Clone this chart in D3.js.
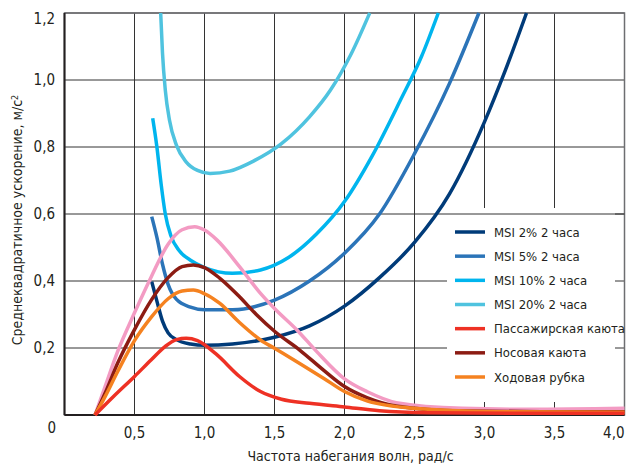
<!DOCTYPE html>
<html>
<head>
<meta charset="utf-8">
<script src="https://cdn.jsdelivr.net/npm/d3@7"></script>
<style>
  body { margin: 0; background: #fff; }
  svg text { font-family: "DejaVu Sans Condensed", "DejaVu Sans", sans-serif; font-stretch: condensed; fill: #231f20; }
  .grid line { stroke: #333; stroke-width: 1; }
  .curve { fill: none; stroke-width: 3.5; stroke-linejoin: round; stroke-linecap: butt; }
</style>
</head>
<body>
<script>
// series data [frequency, rms acceleration]
var msi2 = [[0.623,0.398],[0.66,0.34],[0.70,0.28],[0.74,0.245],[0.80,0.225],[0.90,0.212],[1.0,0.208],[1.2,0.212],[1.5,0.232],[1.75,0.266],[2.0,0.325],[2.25,0.41],[2.5,0.515],[2.75,0.66],[3.0,0.875],[3.15,1.03],[3.30,1.2]];
var msi5 = [[0.623,0.592],[0.66,0.53],[0.70,0.45],[0.74,0.39],[0.80,0.345],[0.90,0.322],[1.0,0.314],[1.2,0.314],[1.5,0.343],[1.75,0.40],[2.0,0.483],[2.25,0.60],[2.5,0.78],[2.75,0.99],[2.96,1.2]];
var msi10 = [[0.63,0.886],[0.66,0.80],[0.69,0.69],[0.72,0.60],[0.76,0.535],[0.82,0.49],[0.90,0.462],[1.0,0.44],[1.2,0.423],[1.4,0.433],[1.6,0.47],[1.8,0.54],[2.0,0.637],[2.2,0.775],[2.4,0.94],[2.55,1.07],[2.67,1.2]];
var msi20 = [[0.687,1.2],[0.70,1.08],[0.72,0.97],[0.75,0.88],[0.80,0.805],[0.87,0.755],[0.95,0.73],[1.04,0.721],[1.18,0.728],[1.35,0.758],[1.55,0.81],[1.75,0.89],[1.9,0.97],[2.05,1.08],[2.18,1.2]];
var passenger = [[0.218,0],[0.35,0.055],[0.5,0.115],[0.62,0.165],[0.72,0.205],[0.80,0.225],[0.87,0.229],[0.95,0.222],[1.08,0.183],[1.25,0.115],[1.40,0.07],[1.55,0.047],[1.75,0.035],[2.0,0.024],[2.25,0.013],[2.6,0.007],[3.2,0.005],[4.0,0.005]];
var bow = [[0.218,0],[0.29,0.065],[0.38,0.155],[0.5,0.255],[0.62,0.343],[0.74,0.41],[0.84,0.443],[0.92,0.448],[1.0,0.44],[1.11,0.408],[1.25,0.353],[1.37,0.30],[1.5,0.25],[1.68,0.194],[1.85,0.134],[2.0,0.085],[2.16,0.052],[2.37,0.027],[2.84,0.012],[3.4,0.01],[4.0,0.01]];
var bridge = [[0.218,0],[0.29,0.055],[0.38,0.13],[0.5,0.222],[0.62,0.292],[0.74,0.347],[0.84,0.37],[0.92,0.373],[1.0,0.362],[1.11,0.333],[1.25,0.276],[1.40,0.224],[1.5,0.199],[1.68,0.154],[1.85,0.11],[2.0,0.07],[2.16,0.042],[2.49,0.02],[3.08,0.01],[4.0,0.008]];
var pink = [[0.218,0],[0.29,0.085],[0.38,0.19],[0.5,0.305],[0.62,0.413],[0.74,0.51],[0.84,0.553],[0.93,0.562],[1.0,0.552],[1.09,0.522],[1.25,0.443],[1.40,0.363],[1.5,0.318],[1.66,0.254],[1.80,0.19],[2.0,0.108],[2.16,0.07],[2.37,0.037],[2.84,0.02],[3.32,0.017],[4.0,0.02]];

var xTicks = [0.5, 1.0, 1.5, 2.0, 2.5, 3.0, 3.5, 4.0];
var yTicks = [0.2, 0.4, 0.6, 0.8, 1.0, 1.2];

var series = [
  {name: "MSI 2% 2 часа", data: msi2, color: "#003b79"},
  {name: "MSI 5% 2 часа", data: msi5, color: "#2b74b8"},
  {name: "MSI 10% 2 часа", data: msi10, color: "#00b5ee"},
  {name: "MSI 20% 2 часа", data: msi20, color: "#4fc3df"},
  {name: "pink", data: pink, color: "#f39bc3"},
  {name: "Носовая каюта", data: bow, color: "#8c1c13"},
  {name: "Ходовая рубка", data: bridge, color: "#f58220"},
  {name: "Пассажирская каюта", data: passenger, color: "#ee3124"}
];
var legendOrder = ["MSI 2% 2 часа", "MSI 5% 2 часа", "MSI 10% 2 часа", "MSI 20% 2 часа", "Пассажирская каюта", "Носовая каюта", "Ходовая рубка"];

var W = 633, H = 466;
var m = {left: 64.5, right: 624.5, top: 13, bottom: 415};

var svg = d3.select("body").append("svg")
    .attr("width", W)
    .attr("height", H);

var x = d3.scaleLinear().domain([0, 4]).range([m.left, m.right]);
var y = d3.scaleLinear().domain([0, 1.2]).range([m.bottom, m.top]);
var fmt = function(d) { return d3.format(".1f")(d).replace(".", ","); };

// grid
var grid = svg.append("g").attr("class", "grid");
grid.selectAll(".vx").data(xTicks).enter().append("line")
    .attr("x1", d => x(d)).attr("x2", d => x(d))
    .attr("y1", m.top).attr("y2", m.bottom);
grid.selectAll(".hy").data(yTicks).enter().append("line")
    .attr("x1", m.left).attr("x2", m.right)
    .attr("y1", d => y(d)).attr("y2", d => y(d));

// frame
svg.append("rect")
    .attr("x", m.left).attr("y", m.top)
    .attr("width", m.right - m.left).attr("height", m.bottom - m.top)
    .attr("fill", "none").attr("stroke", "#6d6e71").attr("stroke-width", 1.5);
svg.append("line")
    .attr("x1", m.left).attr("x2", m.left).attr("y1", m.top).attr("y2", m.bottom)
    .attr("stroke", "#231f20").attr("stroke-width", 2);
svg.append("line")
    .attr("x1", m.left).attr("x2", m.right).attr("y1", m.bottom).attr("y2", m.bottom)
    .attr("stroke", "#231f20").attr("stroke-width", 2);

// curves
var line = d3.line()
    .x(d => x(d[0]))
    .y(d => y(d[1]))
    .curve(d3.curveMonotoneX);

svg.selectAll(".curve").data(series).enter().append("path")
    .attr("class", "curve")
    .attr("stroke", d => d.color)
    .attr("d", d => line(d.data));

// legend
var lg = svg.append("g");
lg.append("rect")
    .attr("x", 447).attr("y", 208)
    .attr("width", 168).attr("height", 194)
    .attr("fill", "#fff");
lg.append("line")
    .attr("x1", 447).attr("x2", m.right)
    .attr("y1", y(0.6)).attr("y2", y(0.6))
    .attr("stroke", "#333");
var items = legendOrder.map(n => series.find(s => s.name === n));
var rowY = d3.scalePoint().domain(legendOrder).range([232, 377]);
var row = lg.selectAll(".item").data(items).enter().append("g")
    .attr("transform", d => "translate(0," + rowY(d.name) + ")");
row.append("line")
    .attr("x1", 455).attr("x2", 485)
    .attr("stroke", d => d.color).attr("stroke-width", 3.5);
row.append("text")
    .attr("x", 494).attr("dy", "0.35em")
    .style("font-size", "13px")
    .text(d => d.name);

// tick labels
svg.selectAll(".xl").data(xTicks).enter().append("text")
    .attr("x", d => x(d)).attr("y", 433).attr("dy", "0.35em")
    .attr("text-anchor", d => d === 4 ? "end" : "middle")
    .style("font-size", "15px")
    .text(fmt);
svg.selectAll(".yl").data(yTicks).enter().append("text")
    .attr("x", 55).attr("y", d => d === 1.2 ? y(d) + 6 : y(d)).attr("dy", "0.35em")
    .attr("text-anchor", "end")
    .style("font-size", "15px")
    .text(fmt);
svg.append("text")
    .attr("x", 56).attr("y", 428).attr("dy", "0.35em")
    .attr("text-anchor", "end")
    .style("font-size", "15px")
    .text("0");

// axis titles
svg.append("text")
    .attr("x", (m.left + m.right) / 2 + 6).attr("y", 461)
    .attr("text-anchor", "middle")
    .style("font-size", "14px")
    .text("Частота набегания волн, рад/с");

var yt = svg.append("text")
    .attr("transform", "translate(22," + ((m.top + m.bottom) / 2 + 6) + ") rotate(-90)")
    .attr("text-anchor", "middle")
    .style("font-size", "14px");
yt.append("tspan").text("Среднеквадратичное ускорение, м/с");
yt.append("tspan").attr("dy", "-0.45em").style("font-size", "9px").text("2");
</script>
</body>
</html>
